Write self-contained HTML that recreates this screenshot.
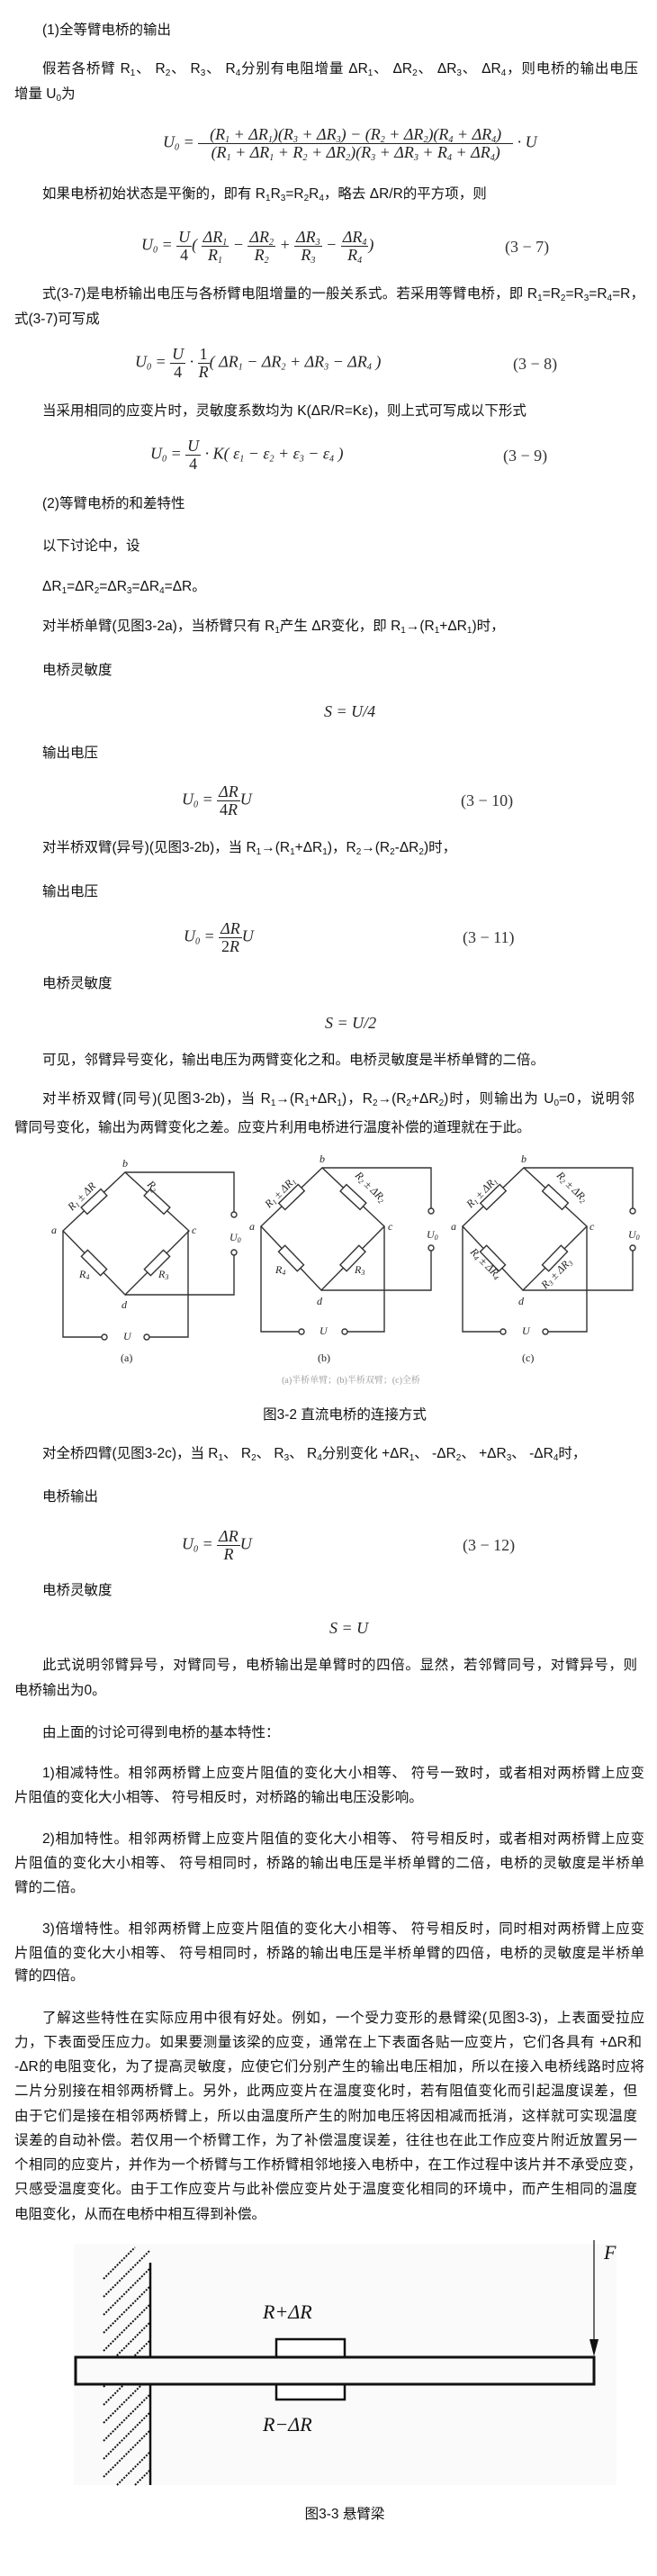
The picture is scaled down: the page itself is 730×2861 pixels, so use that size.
<!DOCTYPE html>
<html><head><meta charset="utf-8">
<style>
html,body{margin:0;padding:0;background:#fff;}
body{width:730px;height:2861px;position:relative;overflow:hidden;font-family:"Liberation Sans","Noto Sans CJK SC",sans-serif;color:#111;font-size:15.5px;}
.l{position:absolute;height:22px;line-height:22px;white-space:nowrap;}
.j{text-align:justify;text-align-last:justify;white-space:normal;overflow:hidden;}
sub{font-size:10px;vertical-align:-3px;line-height:0;}
.f{position:absolute;font-family:"Liberation Serif",serif;font-style:italic;font-size:18px;white-space:nowrap;line-height:20px;color:#222;}
.f .n{font-style:normal;}
.fr{display:inline-block;vertical-align:middle;text-align:center;}
.fr span{display:block;line-height:19px;}
.fr .t{border-bottom:1px solid #222;padding:0 2px;}
.eq{position:absolute;font-family:"Liberation Serif",serif;font-size:18px;color:#333;white-space:nowrap;}
.c{position:absolute;left:0;width:766px;text-align:center;}
</style></head><body>

<div class="l" style="left:47px;top:23px">(1)全等臂电桥的输出</div>
<div class="l j" style="left:47px;top:66px;width:662px">假若各桥臂 R<sub>1</sub>、 R<sub>2</sub>、 R<sub>3</sub>、 R<sub>4</sub>分别有电阻增量 ΔR<sub>1</sub>、 ΔR<sub>2</sub>、 ΔR<sub>3</sub>、 ΔR<sub>4</sub>，则电桥的输出电压</div>
<div class="l" style="left:16px;top:94px">增量 U<sub>0</sub>为</div>

<div class="f" style="left:181px;top:140px">U<sub>0</sub> = <span class="fr" style="width:350px"><span class="t">(R<sub>1</sub> + ΔR<sub>1</sub>)(R<sub>3</sub> + ΔR<sub>3</sub>) − (R<sub>2</sub> + ΔR<sub>2</sub>)(R<sub>4</sub> + ΔR<sub>4</sub>)</span><span>(R<sub>1</sub> + ΔR<sub>1</sub> + R<sub>2</sub> + ΔR<sub>2</sub>)(R<sub>3</sub> + ΔR<sub>3</sub> + R<sub>4</sub> + ΔR<sub>4</sub>)</span></span> · U</div>

<div class="l" style="left:47px;top:205px">如果电桥初始状态是平衡的，即有 R<sub>1</sub>R<sub>3</sub>=R<sub>2</sub>R<sub>4</sub>，略去 ΔR/R的平方项，则</div>

<div class="f" style="left:157px;top:254px">U<sub>0</sub> = <span class="fr"><span class="t">U</span><span class="n">4</span></span>( <span class="fr"><span class="t">ΔR<sub>1</sub></span><span>R<sub>1</sub></span></span> − <span class="fr"><span class="t">ΔR<sub>2</sub></span><span>R<sub>2</sub></span></span> + <span class="fr"><span class="t">ΔR<sub>3</sub></span><span>R<sub>3</sub></span></span> − <span class="fr"><span class="t">ΔR<sub>4</sub></span><span>R<sub>4</sub></span></span>)</div>
<div class="eq" style="left:561px;top:264px">(3 − 7)</div>

<div class="l j" style="left:47px;top:316px;width:669px">式(3-7)是电桥输出电压与各桥臂电阻增量的一般关系式。若采用等臂电桥，即 R<sub>1</sub>=R<sub>2</sub>=R<sub>3</sub>=R<sub>4</sub>=R，</div>
<div class="l" style="left:16px;top:344px">式(3-7)可写成</div>

<div class="f" style="left:150px;top:384px">U<sub>0</sub> = <span class="fr"><span class="t">U</span><span class="n">4</span></span> · <span class="fr"><span class="t n">1</span><span>R</span></span>( ΔR<sub>1</sub> − ΔR<sub>2</sub> + ΔR<sub>3</sub> − ΔR<sub>4</sub> )</div>
<div class="eq" style="left:570px;top:394px">(3 − 8)</div>

<div class="l" style="left:47px;top:446px">当采用相同的应变片时，灵敏度系数均为 K(ΔR/R=Kε)，则上式可写成以下形式</div>

<div class="f" style="left:167px;top:486px">U<sub>0</sub> = <span class="fr"><span class="t">U</span><span class="n">4</span></span> · K( ε<sub>1</sub> − ε<sub>2</sub> + ε<sub>3</sub> − ε<sub>4</sub> )</div>
<div class="eq" style="left:559px;top:496px">(3 − 9)</div>

<div class="l" style="left:47px;top:549px">(2)等臂电桥的和差特性</div>
<div class="l" style="left:47px;top:596px">以下讨论中，设</div>
<div class="l" style="left:47px;top:641px">ΔR<sub>1</sub>=ΔR<sub>2</sub>=ΔR<sub>3</sub>=ΔR<sub>4</sub>=ΔR。</div>
<div class="l" style="left:47px;top:685px">对半桥单臂(见图3-2a)，当桥臂只有 R<sub>1</sub>产生 ΔR变化，即 R<sub>1</sub>→(R<sub>1</sub>+ΔR<sub>1</sub>)时，</div>
<div class="l" style="left:47px;top:734px">电桥灵敏度</div>
<div class="f" style="left:360px;top:780px">S = U/4</div>
<div class="l" style="left:47px;top:826px">输出电压</div>
<div class="f" style="left:202px;top:870px">U<sub>0</sub> = <span class="fr"><span class="t">ΔR</span><span><span class="n" style="display:inline">4</span>R</span></span>U</div>
<div class="eq" style="left:512px;top:879px">(3 − 10)</div>
<div class="l" style="left:47px;top:931px">对半桥双臂(异号)(见图3-2b)，当 R<sub>1</sub>→(R<sub>1</sub>+ΔR<sub>1</sub>)，R<sub>2</sub>→(R<sub>2</sub>-ΔR<sub>2</sub>)时，</div>
<div class="l" style="left:47px;top:980px">输出电压</div>
<div class="f" style="left:204px;top:1022px">U<sub>0</sub> = <span class="fr"><span class="t">ΔR</span><span><span class="n" style="display:inline">2</span>R</span></span>U</div>
<div class="eq" style="left:514px;top:1031px">(3 − 11)</div>
<div class="l" style="left:47px;top:1082px">电桥灵敏度</div>
<div class="f" style="left:361px;top:1126px">S = U/2</div>
<div class="l" style="left:47px;top:1167px">可见，邻臂异号变化，输出电压为两臂变化之和。电桥灵敏度是半桥单臂的二倍。</div>
<div class="l j" style="left:47px;top:1210px;width:658px">对半桥双臂(同号)(见图3-2b)，当 R<sub>1</sub>→(R<sub>1</sub>+ΔR<sub>1</sub>)，R<sub>2</sub>→(R<sub>2</sub>+ΔR<sub>2</sub>)时，则输出为 U<sub>0</sub>=0，说明邻</div>
<div class="l" style="left:16px;top:1242px">臂同号变化，输出为两臂变化之差。应变片利用电桥进行温度补偿的道理就在于此。</div>

<svg style="position:absolute;left:0;top:0" width="730" height="1600" viewBox="0 0 730 1600">
<g fill="none" stroke="#333" stroke-width="1.4">
<!-- fig a -->
<polygon points="70,1367 139,1302 210,1367 139,1438"/>
<polyline points="139,1302 260,1302 260,1346"/>
<polyline points="260,1394 260,1438 139,1438"/>
<polyline points="70,1367 70,1485 113,1485"/>
<polyline points="166,1485 209,1485 209,1367"/>
<circle cx="260" cy="1349" r="3" fill="#fff"/><circle cx="260" cy="1391" r="3" fill="#fff"/>
<circle cx="116" cy="1485" r="3" fill="#fff"/><circle cx="163" cy="1485" r="3" fill="#fff"/>
<rect x="-15" y="-5" width="30" height="10" fill="#fff" transform="translate(104.5,1334.5) rotate(-43)"/>
<rect x="-15" y="-5" width="30" height="10" fill="#fff" transform="translate(174.5,1334.5) rotate(43)"/>
<rect x="-15" y="-5" width="30" height="10" fill="#fff" transform="translate(104.5,1402.5) rotate(45)"/>
<rect x="-15" y="-5" width="30" height="10" fill="#fff" transform="translate(174.5,1402.5) rotate(-45)"/>
<!-- fig b -->
<polygon points="290,1362 358,1297 427,1362 357,1433"/>
<polyline points="358,1297 479,1297 479,1342"/>
<polyline points="479,1389 479,1433 357,1433"/>
<polyline points="290,1362 290,1479 332,1479"/>
<polyline points="386,1479 427,1479 427,1362"/>
<circle cx="479" cy="1345" r="3" fill="#fff"/><circle cx="479" cy="1386" r="3" fill="#fff"/>
<circle cx="335" cy="1479" r="3" fill="#fff"/><circle cx="383" cy="1479" r="3" fill="#fff"/>
<rect x="-15" y="-5" width="30" height="10" fill="#fff" transform="translate(324,1329.5) rotate(-44)"/>
<rect x="-15" y="-5" width="30" height="10" fill="#fff" transform="translate(392.5,1329.5) rotate(43)"/>
<rect x="-15" y="-5" width="30" height="10" fill="#fff" transform="translate(323.5,1397.5) rotate(46)"/>
<rect x="-15" y="-5" width="30" height="10" fill="#fff" transform="translate(392,1397.5) rotate(-46)"/>
<!-- fig c -->
<polygon points="514,1362 582,1297 652,1362 581,1433"/>
<polyline points="582,1297 703,1297 703,1342"/>
<polyline points="703,1389 703,1433 581,1433"/>
<polyline points="514,1362 514,1479 556,1479"/>
<polyline points="609,1479 652,1479 652,1362"/>
<circle cx="703" cy="1345" r="3" fill="#fff"/><circle cx="703" cy="1386" r="3" fill="#fff"/>
<circle cx="559" cy="1479" r="3" fill="#fff"/><circle cx="606" cy="1479" r="3" fill="#fff"/>
<rect x="-15" y="-5" width="30" height="10" fill="#fff" transform="translate(548,1329.5) rotate(-44)"/>
<rect x="-15" y="-5" width="30" height="10" fill="#fff" transform="translate(617,1329.5) rotate(43)"/>
<rect x="-15" y="-5" width="30" height="10" fill="#fff" transform="translate(547.5,1397.5) rotate(46)"/>
<rect x="-15" y="-5" width="30" height="10" fill="#fff" transform="translate(616.5,1397.5) rotate(-46)"/>
</g>
<g font-family="Liberation Serif,serif" font-style="italic" font-size="12" fill="#222">
<text x="136" y="1296">b</text><text x="57" y="1370">a</text><text x="213" y="1370">c</text><text x="135" y="1453">d</text>
<text x="255" y="1378">U<tspan font-size="8" dy="2">0</tspan></text>
<text x="137" y="1488">U</text>
<text transform="translate(80,1345) rotate(-45)">R<tspan font-size="8" dy="2">1</tspan><tspan dy="-2"> ± ΔR</tspan></text>
<text transform="translate(163,1316) rotate(45)">R<tspan font-size="8" dy="2">2</tspan></text>
<text x="88" y="1419">R<tspan font-size="8" dy="2">4</tspan></text>
<text x="176" y="1419">R<tspan font-size="8" dy="2">3</tspan></text>
<text x="355" y="1291">b</text><text x="277" y="1366">a</text><text x="431" y="1366">c</text><text x="352" y="1449">d</text>
<text x="474" y="1375">U<tspan font-size="8" dy="2">0</tspan></text>
<text x="355" y="1482">U</text>
<text transform="translate(299,1342) rotate(-45)">R<tspan font-size="8" dy="2">1</tspan><tspan dy="-2"> ± ΔR</tspan><tspan font-size="8" dy="2">1</tspan></text>
<text transform="translate(394,1306) rotate(45)">R<tspan font-size="8" dy="2">2</tspan><tspan dy="-2"> ± ΔR</tspan><tspan font-size="8" dy="2">2</tspan></text>
<text x="306" y="1414">R<tspan font-size="8" dy="2">4</tspan></text>
<text x="394" y="1414">R<tspan font-size="8" dy="2">3</tspan></text>
<text x="579" y="1291">b</text><text x="501" y="1366">a</text><text x="655" y="1366">c</text><text x="576" y="1449">d</text>
<text x="698" y="1375">U<tspan font-size="8" dy="2">0</tspan></text>
<text x="580" y="1482">U</text>
<text transform="translate(523,1342) rotate(-45)">R<tspan font-size="8" dy="2">1</tspan><tspan dy="-2"> ± ΔR</tspan><tspan font-size="8" dy="2">1</tspan></text>
<text transform="translate(618,1306) rotate(45)">R<tspan font-size="8" dy="2">2</tspan><tspan dy="-2"> ± ΔR</tspan><tspan font-size="8" dy="2">2</tspan></text>
<text transform="translate(522,1391) rotate(45)">R<tspan font-size="8" dy="2">4</tspan><tspan dy="-2"> ± ΔR</tspan><tspan font-size="8" dy="2">4</tspan></text>
<text transform="translate(606,1432) rotate(-45)">R<tspan font-size="8" dy="2">3</tspan><tspan dy="-2"> ± ΔR</tspan><tspan font-size="8" dy="2">3</tspan></text>
</g>
<g font-family="Liberation Serif,serif" font-size="12" fill="#222">
<text x="134" y="1512">(a)</text><text x="353" y="1512">(b)</text><text x="580" y="1512">(c)</text>
</g>
<text x="390" y="1536" text-anchor="middle" font-family="Liberation Serif,'Noto Serif CJK SC',serif" font-size="10" fill="#999">(a)半桥单臂；(b)半桥双臂；(c)全桥</text>
</svg>

<div class="c" style="top:1561px;height:22px;line-height:22px">图3-2 直流电桥的连接方式</div>

<div class="l" style="left:47px;top:1604px">对全桥四臂(见图3-2c)，当 R<sub>1</sub>、 R<sub>2</sub>、 R<sub>3</sub>、 R<sub>4</sub>分别变化 +ΔR<sub>1</sub>、 -ΔR<sub>2</sub>、 +ΔR<sub>3</sub>、 -ΔR<sub>4</sub>时，</div>
<div class="l" style="left:47px;top:1652px">电桥输出</div>
<div class="f" style="left:202px;top:1697px">U<sub>0</sub> = <span class="fr"><span class="t">ΔR</span><span>R</span></span>U</div>
<div class="eq" style="left:514px;top:1706px">(3 − 12)</div>
<div class="l" style="left:47px;top:1756px">电桥灵敏度</div>
<div class="f" style="left:366px;top:1798px">S = U</div>
<div class="l j" style="left:47px;top:1839px;width:661px">此式说明邻臂异号，对臂同号，电桥输出是单臂时的四倍。显然，若邻臂同号，对臂异号，则</div>
<div class="l" style="left:16px;top:1867px">电桥输出为0。</div>
<div class="l" style="left:47px;top:1914px">由上面的讨论可得到电桥的基本特性：</div>
<div class="l j" style="left:47px;top:1959px;width:669px">1)相减特性。相邻两桥臂上应变片阻值的变化大小相等、 符号一致时，或者相对两桥臂上应变</div>
<div class="l" style="left:16px;top:1986px">片阻值的变化大小相等、 符号相反时，对桥路的输出电压没影响。</div>
<div class="l j" style="left:47px;top:2032px;width:669px">2)相加特性。相邻两桥臂上应变片阻值的变化大小相等、 符号相反时，或者相对两桥臂上应变</div>
<div class="l j" style="left:16px;top:2059px;width:700px">片阻值的变化大小相等、 符号相同时，桥路的输出电压是半桥单臂的二倍，电桥的灵敏度是半桥单</div>
<div class="l" style="left:16px;top:2086px">臂的二倍。</div>
<div class="l j" style="left:47px;top:2132px;width:669px">3)倍增特性。相邻两桥臂上应变片阻值的变化大小相等、 符号相反时，同时相对两桥臂上应变</div>
<div class="l j" style="left:16px;top:2159px;width:700px">片阻值的变化大小相等、 符号相同时，桥路的输出电压是半桥单臂的四倍，电桥的灵敏度是半桥单</div>
<div class="l" style="left:16px;top:2184px">臂的四倍。</div>

<div class="l j" style="left:47px;top:2231px;width:669px">了解这些特性在实际应用中很有好处。例如，一个受力变形的悬臂梁(见图3-3)，上表面受拉应</div>
<div class="l j" style="left:16px;top:2258px;width:697px">力，下表面受压应力。如果要测量该梁的应变，通常在上下表面各贴一应变片，它们各具有 +ΔR和</div>
<div class="l j" style="left:16px;top:2285px;width:700px">-ΔR的电阻变化，为了提高灵敏度，应使它们分别产生的输出电压相加，所以在接入电桥线路时应将</div>
<div class="l j" style="left:16px;top:2312px;width:692px">二片分别接在相邻两桥臂上。另外，此两应变片在温度变化时，若有阻值变化而引起温度误差，但</div>
<div class="l j" style="left:16px;top:2340px;width:692px">由于它们是接在相邻两桥臂上，所以由温度所产生的附加电压将因相减而抵消，这样就可实现温度</div>
<div class="l j" style="left:16px;top:2367px;width:692px">误差的自动补偿。若仅用一个桥臂工作，为了补偿温度误差，往往也在此工作应变片附近放置另一</div>
<div class="l j" style="left:16px;top:2394px;width:697px">个相同的应变片，并作为一个桥臂与工作桥臂相邻地接入电桥中，在工作过程中该片并不承受应变，</div>
<div class="l j" style="left:16px;top:2421px;width:692px">只感受温度变化。由于工作应变片与此补偿应变片处于温度变化相同的环境中，而产生相同的温度</div>
<div class="l" style="left:16px;top:2449px">电阻变化，从而在电桥中相互得到补偿。</div>

<svg style="position:absolute;left:0;top:2480px" width="730" height="300" viewBox="0 2480 730 300">
<rect x="82" y="2492" width="603" height="268" fill="#fafafa"/>
<g stroke="#111" stroke-width="2" stroke-dasharray="2,1.5">
<line x1="115" y1="2531" x2="150" y2="2496"/>
<line x1="115" y1="2551" x2="167" y2="2499"/>
<line x1="115" y1="2571" x2="167" y2="2519"/>
<line x1="115" y1="2591" x2="167" y2="2539"/>
<line x1="115" y1="2611" x2="167" y2="2559"/>
<line x1="115" y1="2631" x2="167" y2="2579"/>
<line x1="115" y1="2651" x2="167" y2="2599"/>
<line x1="115" y1="2671" x2="167" y2="2619"/>
<line x1="115" y1="2691" x2="167" y2="2639"/>
<line x1="115" y1="2711" x2="167" y2="2659"/>
<line x1="115" y1="2731" x2="167" y2="2679"/>
<line x1="115" y1="2751" x2="167" y2="2699"/>
<line x1="130" y1="2760" x2="167" y2="2723"/>
<line x1="150" y1="2760" x2="167" y2="2743"/>
</g>
<line x1="167" y1="2513" x2="167" y2="2760" stroke="#111" stroke-width="2.5"/>
<rect x="307" y="2598" width="76" height="22" fill="#fff" stroke="#111" stroke-width="2.5"/>
<rect x="307" y="2646" width="76" height="19" fill="#fff" stroke="#111" stroke-width="2.5"/>
<rect x="84" y="2618" width="576" height="30" fill="#fafafa" stroke="#111" stroke-width="3"/>
<line x1="660" y1="2488" x2="660" y2="2600" stroke="#111" stroke-width="1.2"/>
<polygon points="655,2598 665,2598 660,2617" fill="#111"/>
<g font-family="Liberation Serif,serif" font-style="italic" font-size="22" fill="#111">
<text x="671" y="2509">F</text>
<text x="292" y="2575">R+ΔR</text>
<text x="292" y="2700">R−ΔR</text>
</g>
</svg>

<div class="c" style="top:2782px;height:22px;line-height:22px">图3-3 悬臂梁</div>

</body></html>
